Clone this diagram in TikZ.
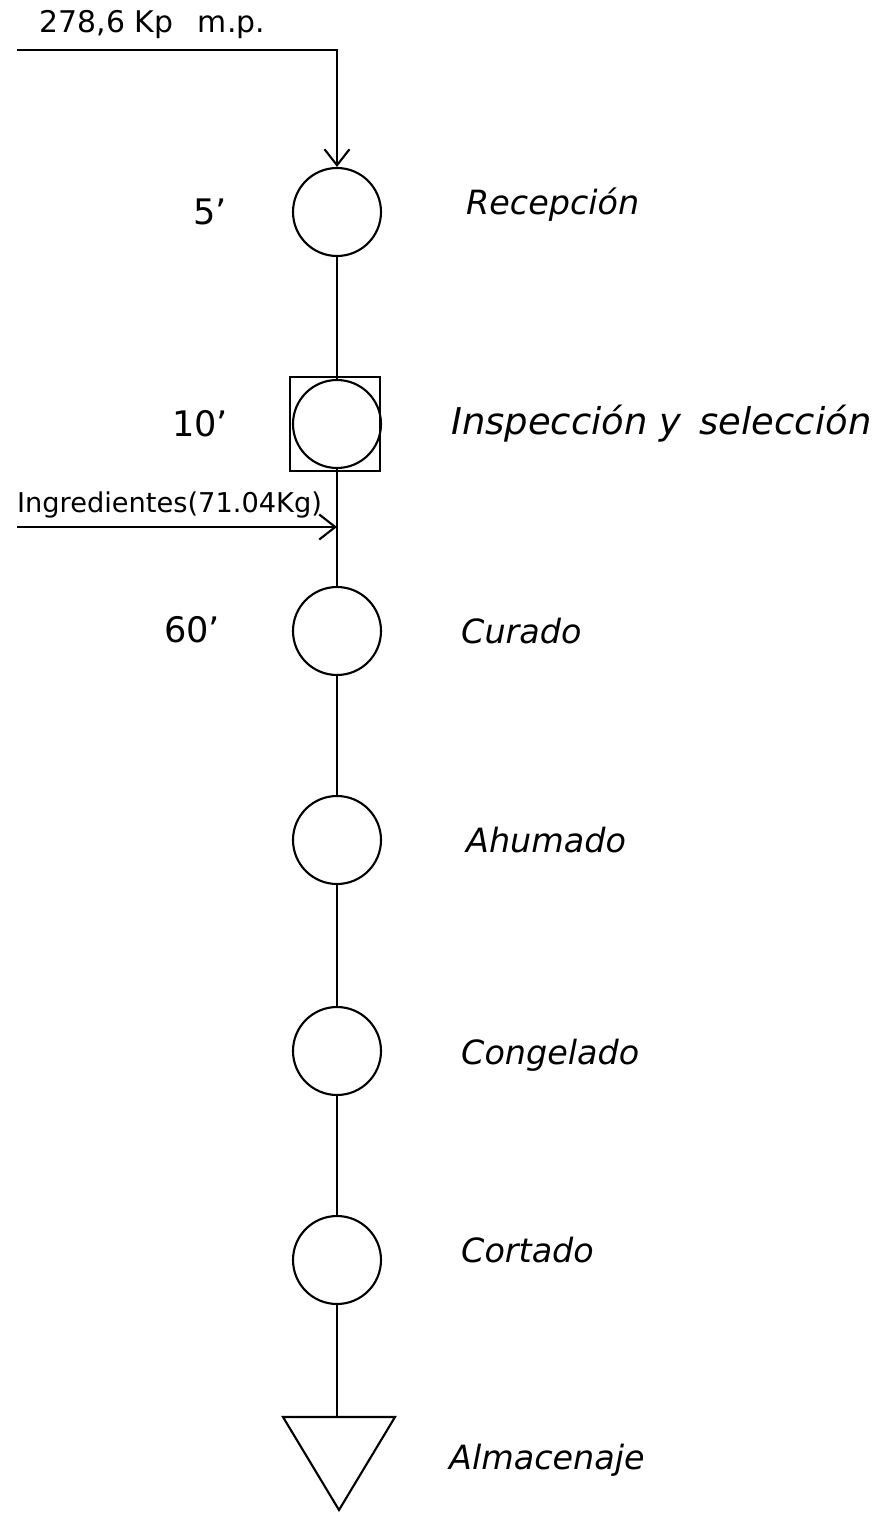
\documentclass[tikz,border=0pt]{standalone}
\usepackage{fontspec}
\setmainfont{DejaVu Sans}
\usetikzlibrary{arrows.meta}

\tikzset{
    etapa/.style={draw, circle, line width=1.2pt, minimum size=1.76cm, inner sep=0pt},
    flujo/.style={line width=1.2pt},
    entrada/.style={line width=1.2pt, -{Straight Barb[length=3.2mm, width=5mm, line width=1.2pt]}},
    tiempo/.style={font=\fontsize{20}{24}\selectfont},
    nombre/.style={anchor=west, font=\fontsize{19}{23}\selectfont\itshape}
}

\begin{document}
\begin{tikzpicture}
    \useasboundingbox (0,0) rectangle (17.78,-30.26);

    % operaciones
    \node[etapa] (recep) at (6.74,-4.24) {};
    \node[etapa] (insp) at (6.74,-8.48) {};
    \node[etapa] (curado) at (6.74,-12.62) {};
    \node[etapa] (ahum) at (6.74,-16.8) {};
    \node[etapa] (cong) at (6.74,-21.02) {};
    \node[etapa] (cort) at (6.74,-25.2) {};
    \draw[line width=1.2pt] (5.8,-7.54) rectangle (7.6,-9.42);

    % almacenaje
    \coordinate (alm) at (6.74,-28.34);
    \draw[line width=1.2pt] (5.66,-28.34) -- (7.9,-28.34) -- (6.78,-30.2) -- cycle;

    % lineas de flujo
    \draw[flujo] (recep) -- (insp.north);
    \draw[flujo] (insp.south) -- (curado);
    \draw[flujo] (curado) -- (ahum);
    \draw[flujo] (ahum) -- (cong);
    \draw[flujo] (cong) -- (cort);
    \draw[flujo] (cort) -- (alm);

    % entradas
    \coordinate (mp) at (0.34,-1.0);
    \coordinate (codo) at (6.74,-1.0);
    \draw[entrada] (mp) -- (codo) -- (recep.north);
    \coordinate (ingr) at (0.34,-10.54);
    \coordinate (union) at (6.74,-10.54);
    \draw[entrada] (ingr) -- (union);

    \node[font=\fontsize{17}{21}\selectfont] (lmp) at (3.05,-0.5) {278,6 Kp\enspace\ m.p.};
    \node[font=\fontsize{15.5}{19}\selectfont, anchor=south west, inner sep=1pt] (ling) at (0.3,-10.4) {Ingredientes(71.04Kg)};

    % tiempos
    \node[tiempo] (t1) at (4.2,-4.24) {5'};
    \node[tiempo] (t2) at (4.0,-8.48) {10'};
    \node[tiempo] (t3) at (3.84,-12.6) {60'};

    % nombres
    \node[nombre] (n1) at (9.2,-4.1) {Recepción};
    \node[nombre, font=\fontsize{21}{25}\selectfont\itshape] (n2) at (8.9,-8.48) {Inspección y\enspace selección};
    \node[nombre] (n3) at (9.1,-12.62) {Curado};
    \node[nombre] (n4) at (9.2,-16.8) {Ahumado};
    \node[nombre] (n5) at (9.1,-21.1) {Congelado};
    \node[nombre] (n6) at (9.1,-25.0) {Cortado};
    \node[nombre] (n7) at (8.86,-29.2) {Almacenaje};
\end{tikzpicture}
\end{document}
